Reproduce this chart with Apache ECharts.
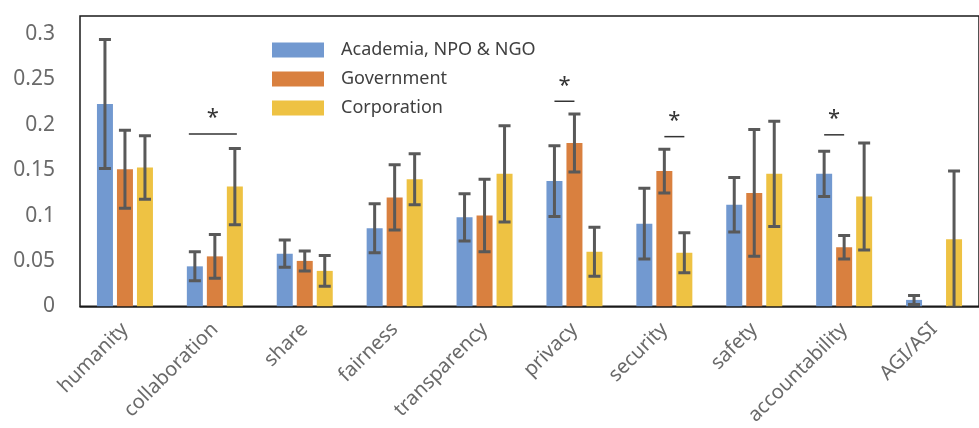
<!DOCTYPE html>
<html>
<head>
<meta charset="utf-8">
<script src="https://cdn.jsdelivr.net/npm/echarts@6/dist/echarts.min.js"></script>
<style>
  html, body { margin: 0; padding: 0; background: #fff; }
  #chart { width: 979px; height: 428px; }
</style>
</head>
<body>
<div id="chart"></div>
<script>
var categories = ['humanity', 'collaboration', 'share', 'fairness', 'transparency',
                  'privacy', 'security', 'safety', 'accountability', 'AGI/ASI'];
var seriesNames = ['Academia, NPO & NGO', 'Government', 'Corporation'];

var academia    = [0.223, 0.044, 0.058, 0.086, 0.098, 0.138, 0.091, 0.112, 0.146, 0.007];
var government  = [0.151, 0.055, 0.050, 0.120, 0.100, 0.180, 0.149, 0.125, 0.065, 0];
var corporation = [0.153, 0.132, 0.039, 0.140, 0.146, 0.060, 0.059, 0.146, 0.121, 0.074];

var academiaErr    = [0.071, 0.016, 0.015, 0.027, 0.026, 0.039, 0.039, 0.030, 0.025, 0.005];
var governmentErr  = [0.043, 0.024, 0.011, 0.036, 0.040, 0.032, 0.024, 0.070, 0.013, null];
var corporationErr = [0.035, 0.042, 0.017, 0.028, 0.053, 0.027, 0.022, 0.058, 0.059, 0.075];

// significance marks: [category index, from bar, to bar, height]
var sigMarks = [
  [1, -0.3, 2.1, 0.190],
  [5, 0, 1, 0.226],
  [6, 1, 2, 0.187],
  [8, 0, 1, 0.189]
];

var colors = ['#7299d0', '#d9803f', '#eec243'];
var BAR_W = 16, BAR_GAP = 4;

var means = [academia, government, corporation];
var errs = [academiaErr, governmentErr, corporationErr];
var errData = [];
for (var k = 0; k < 3; k++) {
  for (var i = 0; i < categories.length; i++) {
    if (errs[k][i] == null) continue;
    errData.push([i, k, means[k][i] - errs[k][i], means[k][i] + errs[k][i]]);
  }
}

var chart = echarts.init(document.getElementById('chart'));
var fontFam = '"Noto Sans", sans-serif';

var series = seriesNames.map(function (name, k) {
  return {
    name: name,
    type: 'bar',
    barWidth: BAR_W,
    barGap: '25%',
    itemStyle: { color: colors[k] },
    data: means[k]
  };
});

series.push({
  type: 'custom',
  name: 'err',
  clip: true,
  z: 5,
  data: errData,
  renderItem: function (params, api) {
    var off = (api.value(1) - 1) * (BAR_W + BAR_GAP);
    var lo = api.coord([api.value(0), api.value(2)]);
    var hi = api.coord([api.value(0), api.value(3)]);
    var x = lo[0] + off;
    var cap = 6;
    var st = { stroke: '#595959', lineWidth: 3 };
    return {
      type: 'group',
      children: [
        { type: 'line', shape: { x1: x, y1: lo[1], x2: x, y2: hi[1] }, style: st },
        { type: 'line', shape: { x1: x - cap, y1: hi[1], x2: x + cap, y2: hi[1] }, style: st },
        { type: 'line', shape: { x1: x - cap, y1: lo[1], x2: x + cap, y2: lo[1] }, style: st }
      ]
    };
  }
});

series.push({
  type: 'custom',
  name: 'sig',
  z: 6,
  data: sigMarks,
  renderItem: function (params, api) {
    var p = api.coord([api.value(0), api.value(3)]);
    var x1 = p[0] + (api.value(1) - 1) * (BAR_W + BAR_GAP);
    var x2 = p[0] + (api.value(2) - 1) * (BAR_W + BAR_GAP);
    return {
      type: 'group',
      children: [
        { type: 'line', shape: { x1: x1, y1: p[1], x2: x2, y2: p[1] },
          style: { stroke: '#333', lineWidth: 1.5 } },
        { type: 'text', x: (x1 + x2) / 2, y: p[1] - 5,
          style: { text: '*', fill: '#333', font: '22px ' + fontFam,
                   align: 'center', verticalAlign: 'bottom' } }
      ]
    };
  }
});

var option = {
  animation: false,
  color: colors,
  legend: {
    data: seriesNames,
    orient: 'vertical',
    left: 267,
    top: 36,
    itemWidth: 52,
    itemHeight: 15,
    itemGap: 11,
    icon: 'rect',
    textStyle: { fontFamily: fontFam, fontSize: 18, color: '#404040', padding: [0, 0, 0, 12] }
  },
  grid: {
    left: 80,
    top: 16,
    width: 908,
    height: 291,
    show: true,
    borderColor: '#1a1a1a',
    borderWidth: 1.5,
    containLabel: false
  },
  xAxis: {
    type: 'category',
    data: categories,
    axisLine: { show: true, lineStyle: { color: '#1a1a1a', width: 1.5 } },
    axisTick: { show: false },
    axisLabel: {
      rotate: 45,
      margin: 20,
      interval: 0,
      fontFamily: fontFam,
      fontSize: 20,
      color: '#6a6a6a'
    }
  },
  yAxis: {
    type: 'value',
    min: 0,
    max: 0.32,
    interval: 0.05,
    splitLine: { show: false },
    axisLine: { show: false },
    axisTick: { show: false },
    axisLabel: {
      margin: 25,
      showMaxLabel: false,
      fontFamily: fontFam,
      fontSize: 21,
      color: '#6a6a6a',
      formatter: function (v) { return String(+v.toFixed(2)); }
    }
  },
  series: series
};

chart.setOption(option);
</script>
</body>
</html>
